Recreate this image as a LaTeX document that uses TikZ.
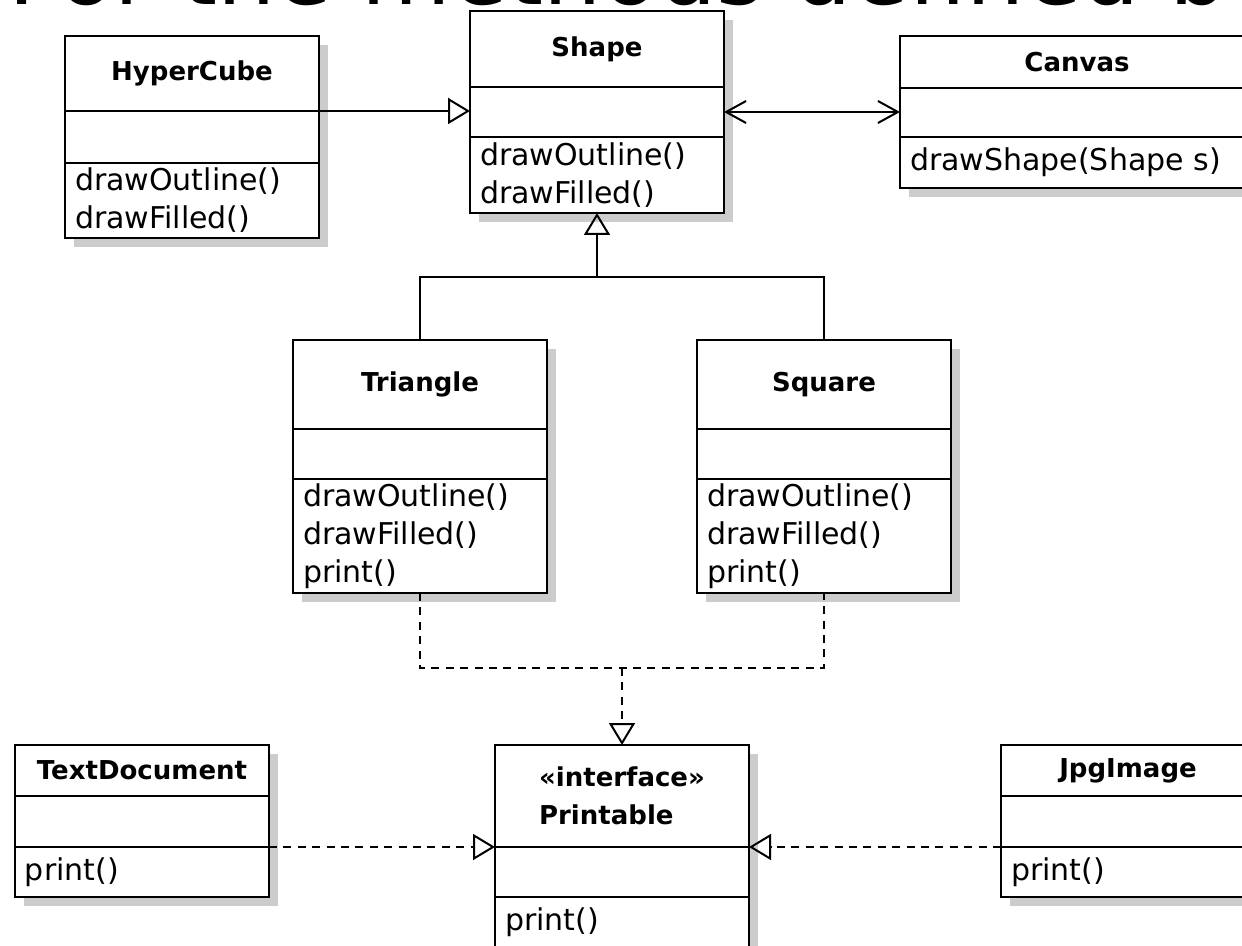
\documentclass[tikz,border=0pt]{standalone}
\usepackage{fontspec}
\setmainfont{DejaVu Sans}
\usetikzlibrary{arrows.meta,positioning,shadows}

\tikzset{
  classpart/.style={draw, line width=1.2pt, fill=white, inner sep=0pt, outer sep=0pt,
    drop shadow={shadow xshift=4.5pt, shadow yshift=-4.5pt, fill=black!20, opacity=1}},
  classhead/.style={classpart, align=left, font=\bfseries\fontsize{13}{19}\selectfont},
  classops/.style={classpart, align=left, inner xsep=5pt, font=\fontsize{15}{19}\selectfont},
  inherit/.style={line width=1pt, -{Triangle[open, length=11pt, width=13pt]}},
  realize/.style={inherit, dash pattern=on 4pt off 3.2pt},
  navigable/.style={line width=1pt, {Straight Barb[length=10pt, width=11pt]}-{Straight Barb[length=10pt, width=11pt]}}
}

\begin{document}
\begin{tikzpicture}[x=0.5pt, y=-0.5pt]
  \useasboundingbox (0,0) rectangle (1242,946);
  \fill[white] (0,0) rectangle (1242,946);
  \clip (0,0) rectangle (1242,946);

  % heading cut off by the top edge
  \node[anchor=base west, inner sep=0pt, font=\fontsize{46}{50}\selectfont] (heading) at (8,5) {For the methods defined b};

  % top row
  \node[classhead, minimum width=127pt, minimum height=37.5pt, anchor=north west] (hyper-h) at (65,36) {HyperCube};
  \node[classpart, minimum width=127pt, minimum height=26pt, below=0pt of hyper-h] (hyper-a) {};
  \node[classops, text width=117pt, minimum height=37.5pt, below=0pt of hyper-a] (hyper-o) {drawOutline()\\drawFilled()};

  \node[classhead, minimum width=127pt, minimum height=38pt, anchor=north west] (shape-h) at (470,11) {Shape};
  \node[classpart, minimum width=127pt, minimum height=25pt, below=0pt of shape-h] (shape-a) {};
  \node[classops, text width=117pt, minimum height=38pt, below=0pt of shape-a] (shape-o) {drawOutline()\\drawFilled()};

  \node[classhead, minimum width=177pt, minimum height=26pt, anchor=north west] (canvas-h) at (900,36) {Canvas};
  \node[classpart, minimum width=177pt, minimum height=24.5pt, below=0pt of canvas-h] (canvas-a) {};
  \node[classops, text width=167pt, minimum height=25.5pt, below=0pt of canvas-a] (canvas-o) {drawShape(Shape s)};

  % middle row
  \node[classhead, minimum width=127pt, minimum height=44.5pt, anchor=north west] (tri-h) at (293,340) {Triangle};
  \node[classpart, minimum width=127pt, minimum height=25pt, below=0pt of tri-h] (tri-a) {};
  \node[classops, text width=117pt, minimum height=57pt, below=0pt of tri-a] (tri-o) {drawOutline()\\drawFilled()\\print()};

  \node[classhead, minimum width=127pt, minimum height=44.5pt, anchor=north west] (sq-h) at (697,340) {Square};
  \node[classpart, minimum width=127pt, minimum height=25pt, below=0pt of sq-h] (sq-a) {};
  \node[classops, text width=117pt, minimum height=57pt, below=0pt of sq-a] (sq-o) {drawOutline()\\drawFilled()\\print()};

  % bottom row
  \node[classhead, minimum width=127pt, minimum height=25.5pt, anchor=north west] (text-h) at (15,745) {TextDocument};
  \node[classpart, minimum width=127pt, minimum height=25.5pt, below=0pt of text-h] (text-a) {};
  \node[classops, text width=117pt, minimum height=25pt, below=0pt of text-a] (text-o) {print()};

  \node[classhead, minimum width=127pt, minimum height=51pt, anchor=north west] (print-h) at (495,745) {«interface»\\Printable};
  \node[classpart, minimum width=127pt, minimum height=25pt, below=0pt of print-h] (print-a) {};
  \node[classops, text width=117pt, minimum height=25.5pt, below=0pt of print-a] (print-o) {print()};

  \node[classhead, minimum width=127pt, minimum height=25.5pt, anchor=north west] (jpg-h) at (1001,745) {JpgImage};
  \node[classpart, minimum width=127pt, minimum height=25.5pt, below=0pt of jpg-h] (jpg-a) {};
  \node[classops, text width=117pt, minimum height=25pt, below=0pt of jpg-a] (jpg-o) {print()};

  % connectors
  \draw[inherit] (hyper-h.south east) -- (hyper-h.south east -| shape-a.west);
  \draw[navigable] (shape-a.east) -- (shape-a.east -| canvas-a.west);

  \coordinate (genjoin) at (shape-o.south |- 0,277);
  \draw[line width=1pt] (tri-h.north) |- (genjoin) -| (sq-h.north);
  \draw[inherit] (genjoin) -- (shape-o.south);

  \coordinate (realjoin) at (print-h.north |- 0,668);
  \draw[line width=1pt, dash pattern=on 4pt off 3.2pt] (tri-o.south) |- (realjoin) -| (sq-o.south);
  \draw[realize] (realjoin) -- (print-h.north);

  \draw[realize] (text-a.south east) -- (text-a.south east -| print-h.west);
  \draw[realize] (jpg-a.south west) -- (jpg-a.south west -| print-h.east);
\end{tikzpicture}
\end{document}
